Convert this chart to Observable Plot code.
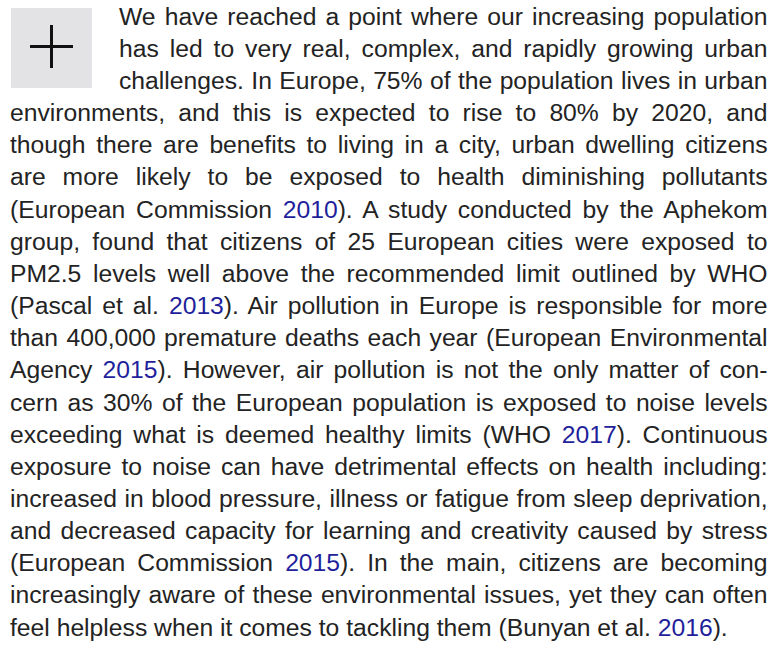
<!DOCTYPE html>
<html>
<head>
<meta charset="utf-8">
<script src="https://cdn.jsdelivr.net/npm/d3@7"></script>
<script src="https://cdn.jsdelivr.net/npm/@observablehq/plot@0.6"></script>
<style>
  html, body { margin: 0; padding: 0; background: #fff; }
  body { width: 777px; height: 650px; position: relative; overflow: hidden; }
  #icon { position: absolute; left: 11px; top: 8px; }
  .line { position: absolute; white-space: nowrap; font-family: "Liberation Sans", Arial, sans-serif;
          font-size: 24.7px; line-height: 32px; color: #232323; transform-origin: 0 0; }
  .yr { color: #1f1f9c; }
</style>
</head>
<body>
<div id="icon"></div>
<div id="text"></div>
<script>
// Icon: a plus sign in a grey square
const iconSize = [81, 80];
const plusH = [{x1: 19, x2: 62, y: 38}];
const plusV = [{x: 40, y1: 17, y2: 60}];

// Paragraph lines; [year] marks a blue citation year
const lines = [
  "We have reached a point where our increasing population",
  "has led to very real, complex, and rapidly growing urban",
  "challenges. In Europe, 75% of the population lives in urban",
  "environments, and this is expected to rise to 80% by 2020, and",
  "though there are benefits to living in a city, urban dwelling citizens",
  "are more likely to be exposed to health diminishing pollutants",
  "(European Commission [2010]). A study conducted by the Aphekom",
  "group, found that citizens of 25 European cities were exposed to",
  "PM2.5 levels well above the recommended limit outlined by WHO",
  "(Pascal et al. [2013]). Air pollution in Europe is responsible for more",
  "than 400,000 premature deaths each year (European Environmental",
  "Agency [2015]). However, air pollution is not the only matter of con-",
  "cern as 30% of the European population is exposed to noise levels",
  "exceeding what is deemed healthy limits (WHO [2017]). Continuous",
  "exposure to noise can have detrimental effects on health including:",
  "increased in blood pressure, illness or fatigue from sleep deprivation,",
  "and decreased capacity for learning and creativity caused by stress",
  "(European Commission [2015]). In the main, citizens are becoming",
  "increasingly aware of these environmental issues, yet they can often",
  "feel helpless when it comes to tackling them (Bunyan et al. [2016])."
];
const indentedLines = 3;

const icon = Plot.plot({
  width: iconSize[0], height: iconSize[1], margin: 0,
  x: {domain: [0, iconSize[0]], axis: null},
  y: {domain: [0, iconSize[1]], range: [0, iconSize[1]], axis: null},
  style: {background: "#e3e3e5", display: "block"},
  marks: [
    Plot.ruleY(plusH, {x1: "x1", x2: "x2", y: "y", stroke: "#111", strokeWidth: 3}),
    Plot.ruleX(plusV, {x: "x", y1: "y1", y2: "y2", stroke: "#111", strokeWidth: 3})
  ]
});
document.getElementById("icon").appendChild(icon);

const textEl = document.getElementById("text");
const right = 767.5;
const firstBaseline = 25, step = 32.15;
lines.forEach((s, i) => {
  const d = document.createElement("div");
  d.className = "line";
  d.innerHTML = s.replace(/\[(\d{4})\]/g, '<span class="yr">$1</span>');
  const left = i < indentedLines ? 119 : 10;
  d.style.left = left + "px";
  textEl.appendChild(d);
  const avail = right - left;
  const w = d.getBoundingClientRect().width;
  const spaces = (s.match(/ /g) || []).length;
  const isLast = i === lines.length - 1;
  if (w > avail) {
    d.style.transform = `scaleX(${avail / w})`;
  } else if (!isLast && spaces > 0) {
    d.style.wordSpacing = ((avail - w) / spaces) + "px";
  }
  d.style.top = (firstBaseline + i * step - 24.3) + "px";
});
</script>
</body>
</html>
